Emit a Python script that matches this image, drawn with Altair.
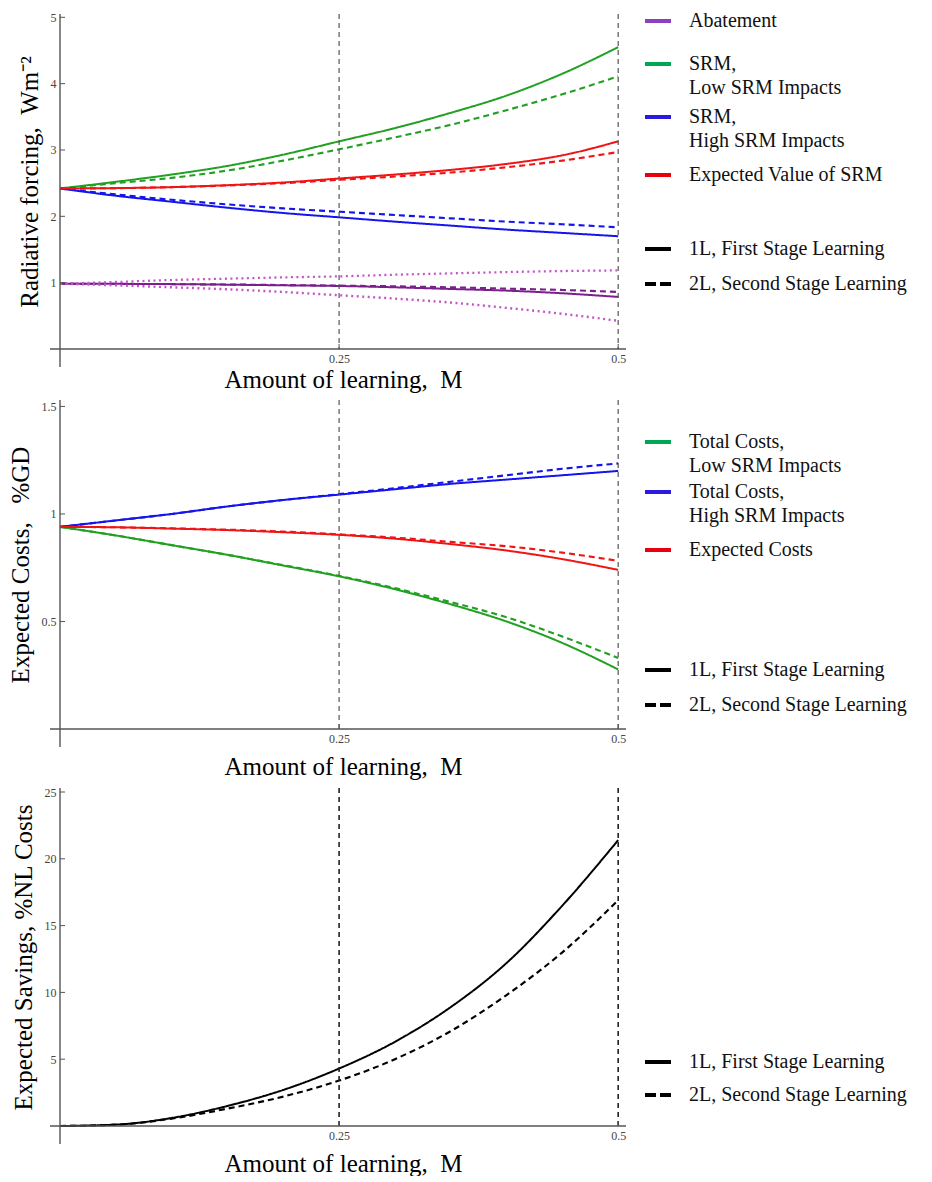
import altair as alt
import pandas as pd

FONT = "Liberation Serif"
NB = "\u00a0"

# ---------------- data ----------------
M = [0.0, 0.05, 0.10, 0.15, 0.20, 0.25, 0.30, 0.35, 0.40, 0.45, 0.50]
VLINES = [0.25, 0.5]
X_TICKS = [0.25, 0.5]

# Panel 1: radiative forcing (W m^-2)
rf_srm_low_1L = [2.42, 2.52, 2.63, 2.76, 2.93, 3.13, 3.33, 3.56, 3.82, 4.15, 4.55]
rf_srm_low_2L = [2.42, 2.50, 2.58, 2.69, 2.84, 3.01, 3.19, 3.38, 3.60, 3.84, 4.11]
rf_srm_ev_1L = [2.42, 2.425, 2.44, 2.47, 2.51, 2.57, 2.63, 2.70, 2.79, 2.92, 3.13]
rf_srm_ev_2L = [2.42, 2.425, 2.44, 2.465, 2.50, 2.55, 2.60, 2.66, 2.74, 2.84, 2.97]
rf_srm_high_1L = [2.42, 2.31, 2.22, 2.13, 2.05, 1.985, 1.92, 1.86, 1.80, 1.75, 1.70]
rf_srm_high_2L = [2.42, 2.33, 2.25, 2.18, 2.12, 2.07, 2.02, 1.97, 1.92, 1.88, 1.835]
rf_abat_1L = [0.985, 0.982, 0.978, 0.97, 0.96, 0.95, 0.93, 0.905, 0.88, 0.84, 0.785]
rf_abat_2L = [0.985, 0.982, 0.978, 0.972, 0.964, 0.955, 0.945, 0.93, 0.91, 0.89, 0.86]
rf_abat_low = [0.985, 1.01, 1.04, 1.06, 1.08, 1.095, 1.12, 1.14, 1.16, 1.175, 1.185]
rf_abat_high = [0.985, 0.96, 0.93, 0.90, 0.86, 0.81, 0.76, 0.70, 0.62, 0.53, 0.425]
RF_Y_TICKS = [1, 2, 3, 4, 5]

# Panel 2: expected costs (%GD)
ec_low_1L = [0.94, 0.90, 0.855, 0.81, 0.76, 0.71, 0.65, 0.58, 0.50, 0.40, 0.277]
ec_low_2L = [0.94, 0.90, 0.855, 0.81, 0.762, 0.712, 0.655, 0.59, 0.52, 0.43, 0.33]
ec_high_1L = [0.94, 0.97, 1.0, 1.035, 1.065, 1.09, 1.115, 1.14, 1.16, 1.18, 1.20]
ec_high_2L = [0.94, 0.97, 1.0, 1.035, 1.065, 1.092, 1.12, 1.15, 1.18, 1.21, 1.235]
ec_exp_1L = [0.94, 0.938, 0.932, 0.925, 0.915, 0.903, 0.885, 0.86, 0.83, 0.79, 0.74]
ec_exp_2L = [0.94, 0.938, 0.933, 0.927, 0.918, 0.905, 0.89, 0.87, 0.85, 0.82, 0.782]
EC_Y_TICKS = [0.5, 1, 1.5]

# Panel 3: expected savings (%NL costs)
sav_1L = [0.0, 0.1, 0.6, 1.5, 2.7, 4.3, 6.3, 8.9, 12.2, 16.5, 21.4]
sav_2L = [0.0, 0.1, 0.55, 1.3, 2.2, 3.4, 5.0, 7.1, 9.8, 13.0, 16.9]
SAV_Y_TICKS = [5, 10, 15, 20, 25]

# titles and legend labels
X_TITLE = "Amount of learning," + NB + NB + "M"
Y_TITLES = ["Radiative forcing," + NB + NB + "Wm\u207b\u00b2",
            "Expected Costs," + NB + NB + NB + "%GD",
            "Expected Savings," + NB + "%NL Costs"]
LEG1_SERIES = [["Abatement"], ["SRM,", "Low SRM Impacts"], ["SRM,", "High SRM Impacts"],
               ["Expected Value of SRM"]]
LEG2_SERIES = [["Total Costs,", "Low SRM Impacts"], ["Total Costs,", "High SRM Impacts"],
               ["Expected Costs"]]
LEG_STAGES = ["1L, First Stage Learning", "2L, Second Stage Learning"]


def long_df(series):
    rows = []
    for name, stage, vals in series:
        for m, v in zip(M, vals):
            rows.append({"M": m, "value": v, "series": name, "stage": stage,
                         "key": name + "|" + stage})
    return pd.DataFrame(rows)


df1 = long_df([
    ("abat", "1L", rf_abat_1L), ("abat", "2L", rf_abat_2L),
    ("abatdot", "dot", rf_abat_low), ("abatdot", "dot2", rf_abat_high),
    ("low", "1L", rf_srm_low_1L), ("low", "2L", rf_srm_low_2L),
    ("high", "1L", rf_srm_high_1L), ("high", "2L", rf_srm_high_2L),
    ("ev", "1L", rf_srm_ev_1L), ("ev", "2L", rf_srm_ev_2L),
])
df2 = long_df([
    ("low", "1L", ec_low_1L), ("low", "2L", ec_low_2L),
    ("high", "1L", ec_high_1L), ("high", "2L", ec_high_2L),
    ("ev", "1L", ec_exp_1L), ("ev", "2L", ec_exp_2L),
])
df3 = long_df([("black", "1L", sav_1L), ("black", "2L", sav_2L)])

SER_DOMAIN = ["abat", "abatdot", "low", "high", "ev", "black"]
SER_RANGE = ["#7a1f8c", "#c455c8", "#22a022", "#1414ee", "#f01414", "#000000"]
STAGE_DOMAIN = ["1L", "2L", "dot", "dot2"]
STAGE_DASH = [[1, 0], [6, 4], [2, 3.5], [2, 3.5]]
STAGE_WIDTH = [2.0, 2.4, 2.0, 2.0]

W = 566
X_SCALE = alt.Scale(domain=[0, 0.507], nice=False)
ONE = pd.DataFrame({"_": [0]})


def panel(df, ydom, height, yticks, ytitle, xtitle_pad, legend_rows, stage_rows,
          vline_color="#555555", vline_width=1.2):
    ys = alt.Scale(domain=ydom, nice=False)
    xaxis = alt.Axis(
        values=X_TICKS, format=".2~f", title=X_TITLE, domain=False, ticks=False,
        grid=False, labelFont=FONT, labelFontSize=12, labelColor="#444444", labelPadding=4,
        titleFont=FONT, titleFontSize=25, titleFontWeight="normal", titleColor="#000000",
        titlePadding=xtitle_pad)
    yaxis = alt.Axis(
        values=yticks, format=".2~f", title=ytitle, domain=False, ticks=False, grid=False,
        labelFont=FONT, labelFontSize=12, labelColor="#444444", labelPadding=4,
        titleFont=FONT, titleFontSize=25, titleFontWeight="normal", titleColor="#000000",
        titlePadding=8)
    layers = []
    # data lines (first, so it defines the axes)
    layers.append(
        alt.Chart(df).mark_line(interpolate="monotone").encode(
            x=alt.X("M:Q", scale=X_SCALE, axis=xaxis),
            y=alt.Y("value:Q", scale=ys, axis=yaxis),
            color=alt.Color("series:N", scale=alt.Scale(domain=SER_DOMAIN, range=SER_RANGE), legend=None),
            strokeDash=alt.StrokeDash("stage:N", scale=alt.Scale(domain=STAGE_DOMAIN, range=STAGE_DASH),
                                      legend=None),
            strokeWidth=alt.StrokeWidth("stage:N", scale=alt.Scale(domain=STAGE_DOMAIN, range=STAGE_WIDTH),
                                        legend=None),
            detail="key:N",
        )
    )
    # vertical dashed reference lines
    layers.append(
        alt.Chart(pd.DataFrame({"M": VLINES})).mark_rule(
            color=vline_color, strokeDash=[5, 4], strokeWidth=vline_width
        ).encode(x=alt.X("M:Q", scale=X_SCALE, axis=xaxis), y=alt.value(0), y2=alt.value(height))
    )
    # axis lines through the origin
    layers.append(alt.Chart(ONE).mark_rule(color="#555555", strokeWidth=1.4).encode(
        x=alt.value(0), y=alt.value(0), y2=alt.value(height + 18)))
    layers.append(alt.Chart(ONE).mark_rule(color="#555555", strokeWidth=1.4).encode(
        x=alt.value(-10), x2=alt.value(W), y=alt.value(height)))
    # inward ticks
    layers.append(alt.Chart(pd.DataFrame({"value": yticks})).mark_rule(color="#555555", strokeWidth=1).encode(
        y=alt.Y("value:Q", scale=ys, axis=yaxis), x=alt.value(0), x2=alt.value(5)))
    layers.append(alt.Chart(pd.DataFrame({"M": X_TICKS})).mark_rule(color="#555555", strokeWidth=1).encode(
        x=alt.X("M:Q", scale=X_SCALE, axis=xaxis), y=alt.value(height), y2=alt.value(height - 5)))
    # manual legend
    sx1, sx2, tx = 585, 611, 629
    for (y, lines, col) in legend_rows:
        layers.append(alt.Chart(ONE).mark_rule(color=col, strokeWidth=4).encode(
            x=alt.value(sx1), x2=alt.value(sx2), y=alt.value(y)))
        for i, txt in enumerate(lines):
            layers.append(alt.Chart(ONE).mark_text(
                align="left", baseline="middle", font=FONT, fontSize=20, color="#111111").encode(
                x=alt.value(tx), y=alt.value(y + 24 * i), text=alt.value(txt)))
    for (y, txt, dash) in stage_rows:
        layers.append(alt.Chart(ONE).mark_rule(color="#000000", strokeWidth=4, strokeDash=dash).encode(
            x=alt.value(sx1), x2=alt.value(sx2), y=alt.value(y)))
        layers.append(alt.Chart(ONE).mark_text(
            align="left", baseline="middle", font=FONT, fontSize=20, color="#111111").encode(
            x=alt.value(tx), y=alt.value(y), text=alt.value(txt)))
    return alt.layer(*layers).properties(width=W, height=height)


LEG_COLS1 = ["#8a40c0", "#00a651", "#2a1ae0", "#e8000e"]
LEG_COLS2 = ["#00a651", "#2a1ae0", "#e8000e"]

top = panel(
    df1, [0, 5.05], 335, RF_Y_TICKS, Y_TITLES[0], 3,
    [(7, LEG1_SERIES[0], LEG_COLS1[0]), (50, LEG1_SERIES[1], LEG_COLS1[1]),
     (103, LEG1_SERIES[2], LEG_COLS1[2]), (161, LEG1_SERIES[3], LEG_COLS1[3])],
    [(235, LEG_STAGES[0], [1, 0]), (270, LEG_STAGES[1], [11, 4])],
)
mid = panel(
    df2, [0, 1.53], 329, EC_Y_TICKS, Y_TITLES[1], 10,
    [(42, LEG2_SERIES[0], LEG_COLS2[0]), (92, LEG2_SERIES[1], LEG_COLS2[1]),
     (150, LEG2_SERIES[2], LEG_COLS2[2])],
    [(270, LEG_STAGES[0], [1, 0]), (305, LEG_STAGES[1], [11, 4])],
)
bot = panel(
    df3, [0, 25.3], 338, SAV_Y_TICKS, Y_TITLES[2], 10,
    [],
    [(274, LEG_STAGES[0], [1, 0]), (307, LEG_STAGES[1], [11, 4])],
    vline_color="#222222", vline_width=1.6,
)

chart = alt.vconcat(top, mid, bot, spacing=7).properties(
    padding={"left": 0, "top": 3, "right": 0, "bottom": 0},
    background="white",
).configure_view(stroke=None)

chart.save("out.html", embed_options={"renderer": "svg", "actions": False})
